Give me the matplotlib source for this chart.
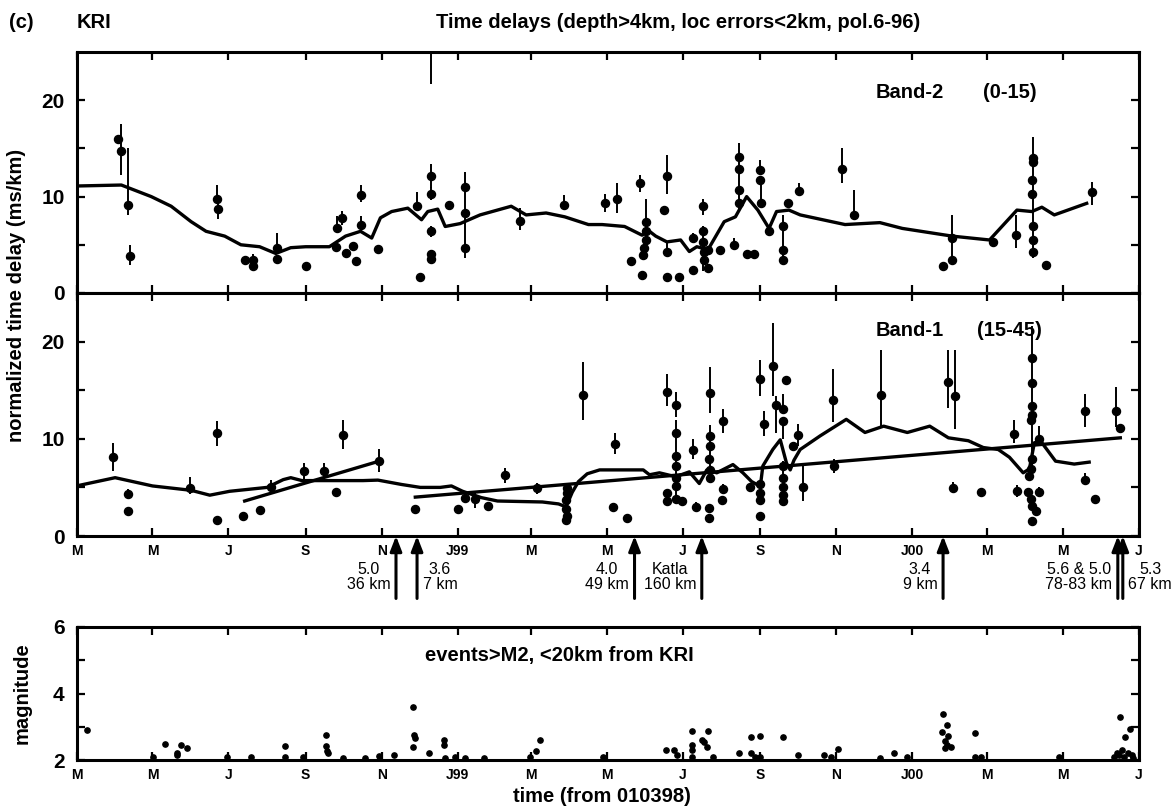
import matplotlib
matplotlib.use("Agg")
import matplotlib.pyplot as plt
from matplotlib import font_manager as fm
import numpy as np

# ---------------- data ----------------
# x in days from 1 March 1998
month_ticks = [0, 61, 122, 184, 245, 306, 365, 426, 487, 549, 610, 671, 731, 792, 853]
month_labels = ["M", "M", "J", "S", "N", "J99", "M", "M", "J", "S", "N", "J00", "M", "M", "J"]

# Band-2 (0-15): day, value, lower err, upper err
b2_day = [33, 36, 41, 43, 113, 113.5, 135, 141.5, 142, 161, 161, 184, 208.6, 209, 213, 216, 222, 224,
          228.5, 228.5, 242, 273, 276, 285, 285, 285, 285, 285, 285, 299, 312, 312, 312, 356, 391,
          424.5, 434, 445, 452.6, 457, 457, 457, 456, 455, 454, 474, 471.6, 474, 474, 484, 495, 495,
          503, 503, 503, 504, 504, 507, 507, 517, 527.5, 538, 544, 532, 532, 532, 532, 548.7, 549,
          549.5, 556, 567, 567, 567, 571, 580, 614.5, 624, 696, 703, 703, 736, 754, 768, 768, 767,
          767, 768, 768, 768, 778.5, 815.6]
b2_val = [16.0, 14.7, 9.1, 3.8, 9.7, 8.7, 3.45, 3.45, 2.8, 4.7, 3.5, 2.8, 4.8, 6.7, 7.8, 4.1, 4.9, 3.3,
          10.2, 7.1, 4.55, 9.0, 1.7, 28.0, 12.1, 10.3, 6.4, 4.0, 3.5, 9.1, 11.0, 8.3, 4.7, 7.5, 9.1,
          9.3, 9.8, 3.3, 11.4, 7.4, 6.4, 5.5, 4.65, 3.97, 1.9, 12.1, 8.6, 4.3, 1.7, 1.7, 2.4, 5.7,
          9.0, 6.4, 5.3, 4.3, 3.45, 4.5, 2.6, 4.5, 5.0, 4.0, 4.0, 14.1, 12.9, 10.7, 9.3, 12.8, 11.7,
          9.3, 6.4, 6.9, 4.5, 3.45, 9.3, 10.6, 12.9, 8.1, 2.8, 3.45, 5.7, 5.3, 6.0, 14.0, 13.6, 11.7,
          10.3, 6.9, 5.5, 4.3, 2.9, 10.45]
b2_elo = [0, 2.5, 1.0, 0.9, 0.5, 1.0, 0.3, 0.4, 0.3, 0.3, 0.3, 0, 0.3, 0.5, 0.7, 0, 0.3, 0,
          0.8, 0.8, 0.2, 0.4, 0, 6.3, 1.2, 0.7, 0.6, 0.5, 0.3, 0.4, 0, 4.7, 0, 1.0, 0.3,
          0.9, 1.5, 0.4, 0.9, 3.9, 0, 0, 0, 0, 0, 1.8, 0, 0.6, 0, 0, 0, 0.5,
          0.9, 4.1, 0, 0, 0, 0, 0, 0.3, 0.5, 0, 0, 0, 0, 0, 0.8, 0, 0,
          0.5, 0.5, 0, 0, 0.35, 0.5, 0.5, 1.5, 0.5, 0, 0.5, 2.3, 0.3, 1.35, 0, 0, 0,
          0, 0, 0, 0.7, 0, 1.35]
b2_ehi = [0, 2.8, 5.9, 1.2, 1.5, 0.5, 0.3, 0.6, 0.3, 1.5, 0.3, 0, 0.3, 1.3, 0.7, 0, 0.3, 0,
          1.0, 0.9, 0.2, 1.5, 0, 0, 1.3, 0.7, 0.6, 0.3, 0.3, 0.4, 1.6, 2.7, 0, 1.3, 1.1,
          1.0, 1.6, 0.4, 0.8, 2.3, 0, 0, 0, 0, 0, 2.2, 0, 1.0, 0, 0, 0, 0.5,
          0.7, 0.5, 0, 0, 0, 0, 0, 0.3, 0.7, 0, 0, 1.5, 0, 0, 4.8, 1.0, 0,
          2.4, 0.5, 1.2, 0, 3.45, 0.5, 0.8, 2.1, 2.6, 0, 0, 2.4, 0.3, 2.1, 2.2, 0, 0,
          0, 0, 0, 9.7, 0, 1.1]

b2_avg_day = [0, 36, 60, 76, 92, 104, 119, 132, 147, 160, 172, 184, 203, 216, 228, 237, 244, 253, 266,
              277, 282, 290, 296, 308, 324, 349, 361, 377, 392, 411, 422, 440, 454, 460, 465, 474, 485,
              492, 498, 507, 520, 529, 538, 547, 556, 562, 572, 581, 617, 645, 663, 703, 733, 755, 767,
              775, 785, 811]
b2_avg_val = [11.1, 11.2, 10.0, 9.0, 7.4, 6.4, 5.9, 5.0, 4.8, 4.1, 4.7, 4.8, 4.8, 5.9, 6.4, 5.7, 7.8, 8.45,
              8.8, 7.6, 8.45, 8.7, 6.9, 7.2, 8.1, 9.0, 8.1, 8.3, 7.9, 7.1, 7.1, 6.9, 6.0, 6.4, 5.9, 5.3,
              5.5, 4.3, 4.8, 4.5, 7.4, 7.9, 10.0, 8.6, 6.7, 8.45, 8.6, 8.1, 7.1, 7.3, 6.7, 5.9, 5.5, 8.6,
              8.45, 8.9, 8.1, 9.3]

# Band-1 (15-45)
b1_day = [29.4, 41.7, 41, 91, 113, 113, 134, 147, 156, 183, 198.6, 208.6, 214, 243, 271.5, 306, 312,
          319.7, 330, 344, 370, 394, 394, 393, 393, 394, 393, 407, 432, 430.5, 442, 474, 481, 481,
          481, 481, 481, 481, 481, 474, 474, 486, 494.7, 497, 508.6, 508.6, 508.6, 508, 508.6, 508.6,
          508, 508, 519, 519, 518, 540.7, 549, 552, 549, 549, 549, 549, 559, 561.6, 567, 567, 567,
          567, 567, 567, 567, 570, 579.5, 575, 583, 607, 608, 646, 700, 705, 704, 726, 753, 755,
          767, 767, 767, 767, 766, 767, 766, 765, 764, 766, 767, 767, 770, 773, 773, 810, 810, 818,
          834.5, 838]
b1_val = [8.1, 4.3, 2.6, 4.9, 10.55, 1.6, 2.1, 2.65, 5.0, 6.7, 6.7, 4.5, 10.4, 7.7, 2.8, 2.8, 3.95,
          3.8, 3.1, 6.25, 4.9, 4.9, 4.4, 3.7, 2.8, 2.1, 1.6, 14.5, 9.5, 3.0, 1.9, 14.85, 13.5, 10.6,
          8.2, 7.2, 6.0, 5.1, 3.8, 4.4, 3.6, 3.6, 8.8, 3.0, 14.7, 10.3, 9.3, 7.9, 6.8, 6.0,
          2.9, 1.9, 11.85, 4.8, 3.7, 5.0, 16.2, 11.5, 5.3, 4.4, 3.7, 2.1, 17.5, 13.5, 13.1, 11.8, 7.2,
          6.0, 5.0, 4.2, 3.6, 16.1, 10.4, 9.3, 5.0, 14.0, 7.2, 14.5, 15.8, 14.4, 4.9, 4.5, 10.5, 4.6,
          18.3, 15.7, 13.4, 12.5, 11.9, 7.9, 6.9, 6.2, 4.5, 3.8, 3.1, 1.55, 2.6, 4.5, 10.0, 12.9, 5.8,
          3.8, 12.9, 11.1]
b1_elo = [1.4, 0.5, 0, 0.6, 1.25, 0, 0, 0, 0.7, 0.8, 0.8, 0.3, 1.5, 1.1, 0.2, 0, 0.3,
          0.9, 0, 0.75, 0.6, 3.4, 0, 0, 0, 0, 0, 2.6, 1.1, 0, 0, 1.45, 1.3, 6.9,
          0, 0, 0, 0, 0, 0, 0, 0, 0.9, 0.5, 2.0, 4.8, 0, 0, 0, 0,
          0, 0, 1.25, 0.5, 0, 0, 1.8, 1.2, 0, 0, 0, 0, 3.1, 2.9, 0, 1.8, 3.6,
          0, 0, 0, 0, 0, 1.1, 0, 1.4, 2.3, 0.7, 3.2, 2.6, 3.4, 0.5, 0.4, 0.9, 0.6,
          5.8, 0, 0, 6.5, 0, 0, 0, 0, 0, 0, 0, 0, 0, 0.5, 0.75, 1.7, 0.5,
          0, 1.7, 0]
b1_ehi = [1.5, 0.5, 0, 1.15, 1.25, 0, 0, 0, 0.75, 0.8, 0.8, 0.3, 1.5, 1.2, 0.2, 0, 0.3,
          0.8, 0, 0.75, 0.6, 0.6, 0, 0, 0, 0, 0, 3.4, 1.1, 0, 0, 1.85, 1.35, 1.3,
          0, 0, 0, 0, 0, 0, 0, 0, 1.15, 0.5, 2.7, 1.1, 0, 0, 0, 0,
          0, 0, 1.2, 0.5, 0, 0, 1.9, 1.4, 0, 0, 0, 0, 4.4, 0.9, 1.5, 0, 0.5,
          0, 0, 0, 0, 0, 1.1, 0, 2.2, 3.2, 0.7, 4.6, 3.3, 4.7, 0.7, 0.4, 1.4, 0.6,
          3.3, 0, 0, 0, 0, 0, 0, 0, 0, 0, 0, 0, 0, 0.5, 1.3, 1.7, 0.7,
          0, 2.4, 0]

b1_avg_day = [0, 31, 61, 92, 107, 123, 153, 166, 172, 181, 199, 230, 242, 261, 276, 292, 301, 310, 325,
              338, 374, 387, 393, 398, 403, 410, 415, 420, 455, 460, 468, 481, 492, 500, 506, 514, 527,
              535, 542, 549, 551, 559, 565, 570, 573, 576, 581, 597, 618, 633, 648, 667, 685, 700, 716,
              728, 740, 749, 760, 765, 769, 775, 786, 801, 813]
b1_avg_val = [5.15, 6.0, 5.15, 4.7, 4.2, 4.6, 5.0, 5.8, 6.0, 5.7, 5.7, 5.7, 5.75, 5.3, 5.0, 5.0, 5.15, 4.6,
              3.95, 3.6, 3.5, 3.3, 3.0, 4.5, 5.6, 6.4, 6.6, 6.8, 6.8, 6.3, 6.5, 6.1, 6.6, 5.4, 6.8, 6.5,
              7.35, 6.5, 5.6, 5.1, 7.2, 8.9, 9.9, 7.5, 6.8, 7.8, 8.9, 10.3, 12.0, 10.65, 11.3, 10.65,
              11.3, 10.1, 9.8, 9.1, 8.9, 8.1, 6.5, 6.9, 9.6, 9.6, 7.7, 7.4, 7.6]

fitA_day = [135, 243]
fitA_val = [3.6, 7.7]
fitB_day = [272, 838]
fitB_val = [4.0, 10.1]

# Events (arrows below Band-1)
ev_day = [256.5, 273.4, 448, 502, 695.7, 836, 840]
ev_text = ["5.0\n36 km", "3.6\n7 km", "4.0\n49 km", "Katla\n160 km", "3.4\n9 km", "5.6 & 5.0\n78-83 km", "5.3\n67 km"]
ev_side = ["left", "right", "left", "left", "left", "left", "right"]

# Magnitudes
mag_day = [8.6, 61.5, 70.7, 80.5, 80.5, 83.6, 89, 121, 140, 167, 167, 182, 200, 200, 201, 202, 214, 232,
           243, 255, 270, 271, 272, 270, 283, 295, 295, 296, 304, 312, 327, 364, 369, 372, 422.5, 473,
           480, 482, 494, 494, 494, 494, 502, 504, 507, 506, 511, 532, 541.5, 541.5, 545, 549, 549, 567,
           579, 600, 606, 611, 645, 656, 667, 696, 699, 695, 700, 697, 699, 697, 702, 721.6, 721.6, 726,
           789, 837.5, 846, 842, 833, 835, 837, 839, 841, 844, 847, 848]
mag_val = [2.9, 2.1, 2.48, 2.15, 2.2, 2.45, 2.35, 2.1, 2.08, 2.42, 2.08, 2.08, 2.75, 2.42, 2.28, 2.2, 2.05,
           2.05, 2.12, 2.15, 3.6, 2.75, 2.65, 2.38, 2.22, 2.6, 2.45, 2.05, 2.08, 2.05, 2.05, 2.1, 2.28,
           2.6, 2.1, 2.3, 2.3, 2.15, 2.88, 2.45, 2.3, 2.1, 2.6, 2.55, 2.88, 2.4, 2.08, 2.2, 2.7, 2.2,
           2.1, 2.1, 2.72, 2.7, 2.15, 2.15, 2.1, 2.32, 2.05, 2.22, 2.08, 3.38, 3.05, 2.85, 2.72, 2.58,
           2.45, 2.35, 2.4, 2.8, 2.1, 2.08, 2.08, 3.3, 2.92, 2.7, 2.1, 2.2, 2.15, 2.3, 2.1, 2.2, 2.15,
           2.05]

# ---------------- fonts ----------------
avail = {f.name for f in fm.fontManager.ttflist}
base = "Liberation Sans" if "Liberation Sans" in avail else "DejaVu Sans"
plt.rcParams["font.family"] = [base, "DejaVu Sans"]

W, H = 1176, 811
fig = plt.figure(figsize=(W / 100, H / 100), dpi=100)

def fx(px):
    return px / W

def fy(py):
    return 1 - py / H

L, R = fx(76.5), fx(1139)
ax1 = fig.add_axes([L, fy(293), R - L, fy(52) - fy(293)])
ax2 = fig.add_axes([L, fy(536), R - L, fy(293) - fy(536)])
ax3 = fig.add_axes([L, fy(760), R - L, fy(627) - fy(760)])

for ax in (ax1, ax2, ax3):
    ax.set_xlim(0, 853)
    for s in ax.spines.values():
        s.set_linewidth(2.2)
    ax.set_xticks(month_ticks)
    ax.tick_params(direction="in", length=5.5, width=1.6, top=True, right=True)
    ax.tick_params(axis="y", pad=8.5)

ax1.set_xticklabels([])
for ax in (ax2, ax3):
    ax.set_xticklabels(month_labels, fontsize=10, fontweight="bold")
    ax.tick_params(axis="x", pad=6)

for ax in (ax1, ax2):
    ax.set_ylim(0, 25)
    ax.set_yticks([0, 5, 10, 15, 20])
    ax.set_yticklabels(["0", "", "10", "", "20"], fontsize=15, fontweight="bold")
ax3.set_ylim(2, 6)
ax3.set_yticks([2, 3, 4, 5, 6])
ax3.set_yticklabels(["2", "", "4", "", "6"], fontsize=15, fontweight="bold")

def draw_band(ax, d, v, lo, hi, ad, av):
    ax.errorbar(d, v, yerr=[lo, hi], fmt="o", color="black", ms=5.8, elinewidth=1.4,
                capsize=0, clip_on=True)
    ax.plot(ad, av, color="black", lw=2.4, solid_joinstyle="round")

draw_band(ax1, b2_day, b2_val, b2_elo, b2_ehi, b2_avg_day, b2_avg_val)
draw_band(ax2, b1_day, b1_val, b1_elo, b1_ehi, b1_avg_day, b1_avg_val)
ax2.plot(fitA_day, fitA_val, color="black", lw=2.4)
ax2.plot(fitB_day, fitB_val, color="black", lw=2.4)

ax3.plot(mag_day, mag_val, "o", color="black", ms=3.8, clip_on=False)

# texts
tk = dict(fontsize=14.5, fontweight="bold")
fig.text(fx(9), fy(22), "(c)", va="center", ha="left", **tk)
fig.text(fx(77), fy(22), "KRI", va="center", ha="left", **tk)
fig.text(fx(678), fy(23), "Time delays (depth>4km, loc errors<2km, pol.6-96)",
         va="center", ha="center", **tk)
fig.text(fx(876), fy(92), "Band-2", va="center", ha="left", **tk)
fig.text(fx(983), fy(92), "(0-15)", va="center", ha="left", **tk)
fig.text(fx(876), fy(330), "Band-1", va="center", ha="left", **tk)
fig.text(fx(977), fy(330), "(15-45)", va="center", ha="left", **tk)
fig.text(fx(425), fy(655), "events>M2, <20km from KRI", va="center", ha="left", **tk)
fig.text(fx(602), fy(797), "time (from 010398)", va="center", ha="center", **tk)
fig.text(fx(17), fy(295), "normalized time delay (ms/km)", va="center", ha="center",
         rotation=90, **tk)
fig.text(fx(22), fy(693), "magnitude", va="center", ha="center", rotation=90, **tk)

# event arrows
for d, t, side in zip(ev_day, ev_text, ev_side):
    ax2.annotate("", xy=(d, 0), xycoords=("data", "axes fraction"),
                 xytext=(d, -0.257), textcoords=("data", "axes fraction"),
                 arrowprops=dict(arrowstyle="-|>,head_length=0.9,head_width=0.35", lw=2.2,
                                 color="black", shrinkA=0, shrinkB=0),
                 annotation_clip=False)
    off = -4 if side == "left" else 4
    ha = "right" if side == "left" else "left"
    ax2.annotate(t, xy=(d, -0.17), xycoords=("data", "axes fraction"),
                 xytext=(off, 0), textcoords="offset points", ha=ha, va="center",
                 multialignment="center", fontsize=11.5,
                 linespacing=1.0, annotation_clip=False)

fig.savefig("out.png", dpi=100)
